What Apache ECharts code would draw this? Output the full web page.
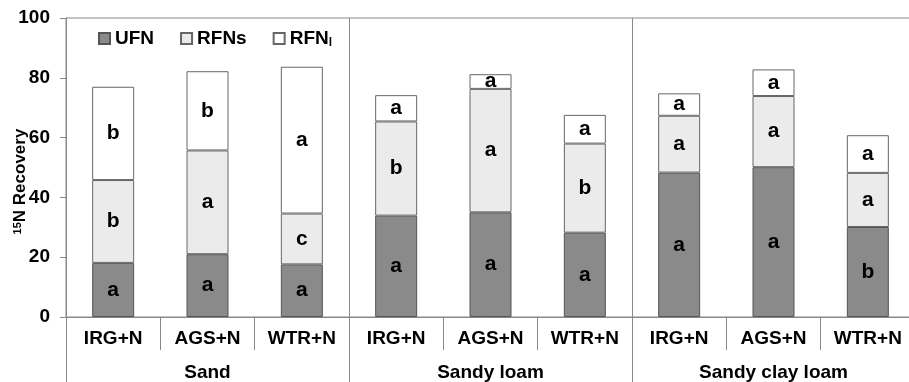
<!DOCTYPE html>
<html>
<head>
<meta charset="utf-8">
<script src="https://cdn.jsdelivr.net/npm/echarts@6/dist/echarts.min.js"></script>
<style>html,body{margin:0;padding:0;background:#fff;}#c{width:909px;height:382px;}</style>
</head>
<body>
<div id="c"></div>
<script>
const categories = ['IRG+N','AGS+N','WTR+N','IRG+N','AGS+N','WTR+N','IRG+N','AGS+N','WTR+N'];
const soils = ['Sand','Sandy loam','Sandy clay loam'];
const ufn  = [18.1, 21.0, 17.6, 33.9, 35.0, 28.2, 48.3, 50.1, 30.1];
const rfns = [27.7, 34.7, 17.0, 31.5, 41.3, 29.8, 19.0, 23.8, 18.1];
const rfnl = [31.2, 26.5, 49.1, 8.8, 4.9, 9.6, 7.5, 8.9, 12.6];
const ufnLetters  = ['a','a','a','a','a','a','a','a','b'];
const rfnsLetters = ['b','a','c','b','a','b','a','a','a'];
const rfnlLetters = ['b','b','a','a','a','a','a','a','a'];
const yMin = 0, yMax = 100, yStep = 20;

const FONT = '"Liberation Sans", Arial, sans-serif';
const chart = echarts.init(document.getElementById('c'), null, {renderer: 'canvas'});

function lbl(letters) {
  return {
    show: true, position: 'inside', color: '#000', fontWeight: 'bold',
    fontSize: 21, fontFamily: FONT,
    formatter: p => letters[p.dataIndex]
  };
}

chart.setOption({
  animation: false,
  backgroundColor: '#fff',
  grid: {left: 66, right: -6, top: 18, bottom: 65, show: true, borderColor: '#888', borderWidth: 1,
         containLabel: false, outerBoundsMode: 'none'},
  legend: {
    left: 93, top: 24, itemWidth: 11, itemHeight: 11, itemGap: 26, icon: 'rect',
    data: ['UFN', 'RFNs', 'RFNl'],
    formatter: n => n === 'RFNl' ? '{m|RFN}{s|l}' : '{m|' + n + '}',
    textStyle: {
      rich: {
        m: {fontSize: 19, fontWeight: 'bold', fontFamily: FONT, color: '#000'},
        s: {fontSize: 12, fontWeight: 'bold', fontFamily: FONT, color: '#000', verticalAlign: 'bottom', padding: [9, 0, 0, 0]}
      }
    }
  },
  xAxis: [
    {
      type: 'category', data: categories, position: 'bottom',
      axisLine: {show: true, lineStyle: {color: '#888'}},
      axisTick: {show: true, length: 33, lineStyle: {color: '#888'}},
      axisLabel: {margin: 12, fontSize: 19, fontWeight: 'bold', color: '#000', fontFamily: FONT, interval: 0},
      splitLine: {show: false}
    },
    {
      type: 'category', data: soils, position: 'bottom', offset: 0,
      axisLine: {show: false},
      axisTick: {show: true, length: 65, lineStyle: {color: '#888'}},
      axisLabel: {margin: 46, fontSize: 19, fontWeight: 'bold', color: '#000', fontFamily: FONT, interval: 0},
      splitLine: {show: true, lineStyle: {color: '#888', width: 1}}
    }
  ],
  yAxis: {
    type: 'value', min: yMin, max: yMax, interval: yStep,
    axisLine: {show: true, lineStyle: {color: '#888'}},
    axisTick: {show: true, length: 6, lineStyle: {color: '#888'}},
    axisLabel: {margin: 16, fontSize: 19, fontWeight: 'bold', color: '#000', fontFamily: FONT},
    splitLine: {show: false},
    name: '{sup|15}{n|N Recovery}',
    nameLocation: 'middle', nameRotate: 90, nameGap: 37, nameMoveOverlap: false,
    nameTextStyle: {
      padding: [0, 28, 0, 0],
      rich: {
        sup: {fontSize: 11, fontWeight: 'bold', fontFamily: FONT, color: '#000', verticalAlign: 'top', padding: [0, 0, 6, 0]},
        n: {fontSize: 17, fontWeight: 'bold', fontFamily: FONT, color: '#000'}
      }
    }
  },
  series: [
    {name: 'UFN', type: 'bar', stack: 't', data: ufn, barWidth: 42,
     itemStyle: {color: '#8a8a8a', borderColor: '#555', borderWidth: 1}, label: lbl(ufnLetters)},
    {name: 'RFNs', type: 'bar', stack: 't', data: rfns, barWidth: 42,
     itemStyle: {color: '#ebebeb', borderColor: '#666', borderWidth: 1}, label: lbl(rfnsLetters)},
    {name: 'RFNl', type: 'bar', stack: 't', data: rfnl, barWidth: 42,
     itemStyle: {color: '#ffffff', borderColor: '#666', borderWidth: 1}, label: lbl(rfnlLetters)}
  ]
});
</script>
</body>
</html>
